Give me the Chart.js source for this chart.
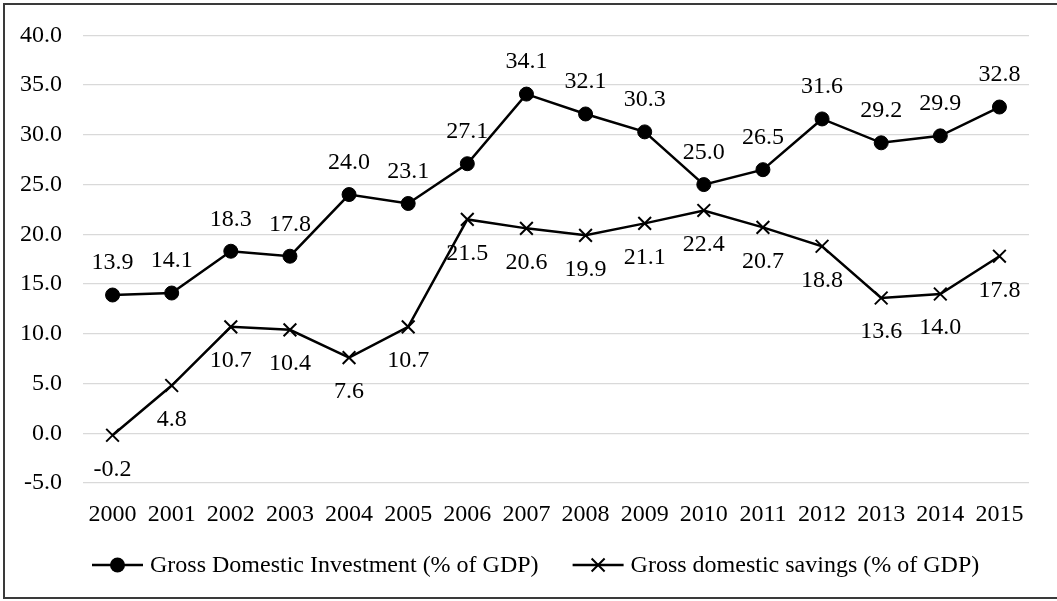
<!DOCTYPE html>
<html>
<head>
<meta charset="utf-8">
<script src="https://cdn.jsdelivr.net/npm/chart.js@4"></script>
<style>
  body { margin: 0; background: #fff; }
  #wrap { width: 1057px; height: 601px; }
</style>
</head>
<body>
<div id="wrap"><canvas id="myChart"></canvas></div>
<script>
const years = ["2000", "2001", "2002", "2003", "2004", "2005", "2006", "2007",
  "2008", "2009", "2010", "2011", "2012", "2013", "2014", "2015"];
const investment = [13.9, 14.1, 18.3, 17.8, 24.0, 23.1, 27.1, 34.1, 32.1, 30.3, 25.0, 26.5, 31.6, 29.2, 29.9, 32.8];
const savings = [-0.2, 4.8, 10.7, 10.4, 7.6, 10.7, 21.5, 20.6, 19.9, 21.1, 22.4, 20.7, 18.8, 13.6, 14.0, 17.8];
const yTicks = [-5, 0, 5, 10, 15, 20, 25, 30, 35, 40];

const FONT = "'Liberation Serif', 'Times New Roman', serif";
const ctx = document.getElementById("myChart");

// value labels: above the dots, below the crosses
const valueLabels = {
  id: "valueLabels",
  afterDatasetsDraw(chart) {
    const c = chart.ctx;
    c.save();
    c.font = "24px " + FONT;
    c.fillStyle = "#000";
    c.textAlign = "center";
    c.textBaseline = "middle";
    chart.data.datasets.forEach((ds, i) => {
      const meta = chart.getDatasetMeta(i);
      meta.data.forEach((pt, j) => {
        const dy = i == 0 ? -32 : 34;
        c.fillText(ds.data[j].toFixed(1), pt.x, pt.y + dy);
      });
    });
    c.restore();
  },
};

// legend with line + marker samples, and the outer frame
const legendAndFrame = {
  id: "legendAndFrame",
  afterDraw(chart) {
    const c = chart.ctx;
    c.save();
    c.font = "24px " + FONT;
    const sample = 51, gapText = 7, gapItems = 34;
    let x = 92;
    const y = 565;
    chart.data.datasets.forEach((ds) => {
      c.strokeStyle = "#000";
      c.lineWidth = 2.5;
      c.beginPath();
      c.moveTo(x, y);
      c.lineTo(x + sample, y);
      c.stroke();
      const cx = x + sample / 2;
      if (ds.pointStyle == "circle") {
        c.fillStyle = "#000";
        c.beginPath();
        c.arc(cx, y, 7.5, 0, Math.PI * 2);
        c.fill();
      } else {
        c.lineWidth = 2;
        c.beginPath();
        c.moveTo(cx - 6.5, y - 6.5);
        c.lineTo(cx + 6.5, y + 6.5);
        c.moveTo(cx + 6.5, y - 6.5);
        c.lineTo(cx - 6.5, y + 6.5);
        c.stroke();
      }
      c.fillStyle = "#000";
      c.textAlign = "left";
      c.textBaseline = "middle";
      c.fillText(ds.label, x + sample + gapText, y + 1);
      x += sample + gapText + c.measureText(ds.label).width + gapItems;
    });
    c.strokeStyle = "#3a3a3a";
    c.lineWidth = 2;
    c.strokeRect(4, 4, chart.width + 10, 594);
    c.restore();
  },
};

new Chart(ctx, {
  type: "line",
  data: {
    labels: years,
    datasets: [
      {
        label: "Gross Domestic Investment (% of GDP)",
        data: investment,
        borderColor: "#000",
        backgroundColor: "#000",
        borderWidth: 2.5,
        pointStyle: "circle",
        pointRadius: 7,
        pointBorderWidth: 1,
        pointHoverRadius: 7,
        tension: 0,
      },
      {
        label: "Gross domestic savings (% of GDP)",
        data: savings,
        borderColor: "#000",
        backgroundColor: "#000",
        borderWidth: 2.5,
        pointStyle: "crossRot",
        pointRadius: 9,
        pointBorderWidth: 2,
        pointHoverRadius: 9,
        tension: 0,
      },
    ],
  },
  options: {
    responsive: true,
    maintainAspectRatio: false,
    animation: false,
    layout: { padding: { top: 33, right: 28, left: 0, bottom: 0 } },
    plugins: {
      legend: { display: false },
      tooltip: { enabled: false },
    },
    scales: {
      x: {
        offset: true,
        grid: { display: false, drawTicks: false },
        border: { display: false },
        ticks: { color: "#000", font: { family: FONT, size: 24 }, padding: 17, maxRotation: 0 },
        afterFit: (s) => { s.height = 601 - 33 - 450; },
      },
      y: {
        min: -5,
        max: 40,
        afterBuildTicks: (s) => { s.ticks = yTicks.map((v) => ({ value: v })); },
        grid: { color: "#d9d9d9", lineWidth: 1.3, drawTicks: false },
        border: { display: false },
        ticks: {
          color: "#000",
          font: { family: FONT, size: 24 },
          padding: 21,
          callback: (v) => v.toFixed(1),
        },
        afterFit: (s) => { s.width = 83; },
      },
    },
  },
  plugins: [valueLabels, legendAndFrame],
});
</script>
</body>
</html>
